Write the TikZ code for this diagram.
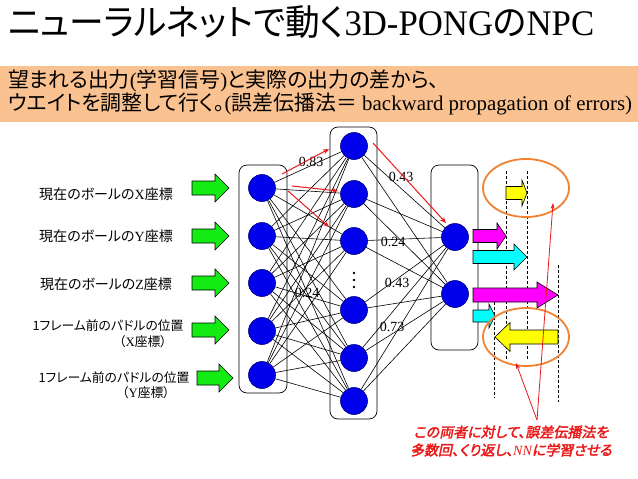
\documentclass[tikz,border=0pt]{standalone}
\usepackage{fontspec}
\setmainfont{Liberation Serif}
\newfontfamily\jp[RawFeature=+palt]{Noto Sans CJK JP}
\newfontfamily\jpred[RawFeature=+palt,FakeSlant=0.2,FakeBold=2.5]{Noto Sans CJK JP}
\usetikzlibrary{arrows.meta}
\definecolor{bandc}{RGB}{250,193,145}
\definecolor{nblue}{RGB}{0,0,235}
\definecolor{nedge}{RGB}{0,0,130}
\definecolor{garrow}{RGB}{20,235,20}
\definecolor{oring}{RGB}{240,130,50}
\definecolor{redc}{RGB}{235,25,25}
\definecolor{amag}{RGB}{255,0,255}
\definecolor{acyan}{RGB}{0,255,255}
\definecolor{ayel}{RGB}{255,255,0}
\newcommand\blkarr[7]{%
  \pgfmathsetmacro\bkh{#2-(#6)}%
  \filldraw[fill=#7, draw=black, line width=0.6pt]
   (#1,{#3-#4}) -- (\bkh,{#3-#4}) -- (\bkh,{#3-#5}) -- (#2,#3)
   -- (\bkh,{#3+#5}) -- (\bkh,{#3+#4}) -- (#1,{#3+#4}) -- cycle;}
\tikzset{
  neuron/.style={circle, fill=nblue, draw=nedge, line width=0.6pt, minimum size=27pt, inner sep=0pt},
  layerbox/.style={draw=black, line width=0.7pt, rounded corners=8pt},
  conn/.style={draw=black, line width=0.6pt},
  redarr/.style={draw=redc, line width=1pt, -{Stealth[length=6pt,width=5pt]}},
  redptr/.style={draw=redc, line width=0.8pt, -{Stealth[length=6pt,width=4pt]}},
  wlabel/.style={font=\fontsize{14}{16}\selectfont, inner sep=0pt},
  inlabel/.style={font=\fontsize{14}{16}\selectfont\jp, inner sep=0pt},
  inlabelsm/.style={font=\fontsize{12.8}{15}\selectfont\jp, inner sep=0pt},
  dline/.style={draw=black, line width=0.5pt, dash pattern=on 3pt off 2pt},
  oell/.style={draw=oring, line width=1.8pt},
}
\begin{document}
\begin{tikzpicture}[x=1pt,y=-1pt]
\useasboundingbox (0,0) rectangle (638,479);
\fill[white] (0,0) rectangle (638,479);
% title
\node[anchor=west, inner sep=0pt] (title) at (8,22)
  {\scalebox{0.965}[1]{\fontsize{36}{40}\selectfont\jp ニューラルネットで動く\rmfamily 3D-PONG\jp の\rmfamily NPC}};
% band
\fill[bandc] (0,66) rectangle (638,122);
\node[anchor=west, inner sep=0pt] (band1) at (8,81)
  {\fontsize{20.9}{24}\selectfont\jp 望まれる出力\rmfamily(\jp 学習信号\rmfamily)\jp と実際の出力の差から、};
\node[anchor=west, inner sep=0pt] (band2) at (8,104)
  {\fontsize{20.9}{24}\selectfont\jp ウエイトを調整して行く。\rmfamily(\jp 誤差伝播法＝\rmfamily\ backward propagation of errors)};
% input labels
\node[inlabel] (l1) at (106,194) {現在のボールの\rmfamily X\jp 座標};
\node[inlabel] (l2) at (106,236) {現在のボールの\rmfamily Y\jp 座標};
\node[inlabel] (l3) at (106,284) {現在のボールの\rmfamily Z\jp 座標};
\node[inlabelsm] (l4a) at (108,326) {1フレーム前のパドルの位置};
\node[inlabelsm] (l4b) at (143,342) {（\rmfamily X\jp 座標）};
\node[inlabelsm] (l5a) at (114,378) {1フレーム前のパドルの位置};
\node[inlabelsm] (l5b) at (146,393) {（\rmfamily Y\jp 座標）};
% green arrows
\blkarr{192}{229}{188}{7}{14}{14}{garrow}
\blkarr{192}{229}{236}{7}{14}{14}{garrow}
\blkarr{192}{229}{283}{7}{14}{14}{garrow}
\blkarr{192}{229}{330}{7}{14}{14}{garrow}
\blkarr{197}{233}{378}{7}{14}{14}{garrow}
% layer boxes
\draw[layerbox] (239,165) rectangle (287,393);
\draw[layerbox] (330,127) rectangle (377,419);
\draw[layerbox] (431,165) rectangle (478,350);
% weight labels
\node[wlabel] (w1) at (311,162) {0.83};
\node[wlabel] (w2) at (401,177) {0.43};
\node[wlabel] (w3) at (393,242) {0.24};
\node[wlabel] (w4) at (397,283) {0.43};
\node[wlabel] (w5) at (392,327) {0.73};
\node[wlabel] (w6) at (307,293) {0.24};
% neurons
\node[neuron] (i1) at (262,188) {};
\node[neuron] (i2) at (262,236) {};
\node[neuron] (i3) at (262,283) {};
\node[neuron] (i4) at (262,331) {};
\node[neuron] (i5) at (262,375) {};
\node[neuron] (h1) at (354,146) {};
\node[neuron] (h2) at (354,194) {};
\node[neuron] (h3) at (354,241) {};
\node[neuron] (h4) at (354,310) {};
\node[neuron] (h5) at (354,358) {};
\node[neuron] (h6) at (354,401) {};
\node[neuron] (o1) at (455,237) {};
\node[neuron] (o2) at (455,294) {};
% dots
\foreach \yy in {273,280,287} \fill[black] (354,\yy) circle (1.3pt);
% connections
\foreach \a in {1,...,5}{\foreach \b in {1,...,6}{\draw[conn] (i\a) -- (h\b);}}
\foreach \b in {1,...,6}{\foreach \c in {1,2}{\draw[conn] (h\b) -- (o\c);}}
% red arrows
\coordinate (r1s) at (282,174); \coordinate (r1e) at (329,149);
\coordinate (r2s) at (292,186); \coordinate (r2e) at (338,191);
\coordinate (r3s) at (288,191); \coordinate (r3e) at (329,227);
\coordinate (r4s) at (373,143); \coordinate (r4e) at (446,223);
\draw[redarr] (r1s) -- (r1e);
\draw[redarr] (r2s) -- (r2e);
\draw[redarr] (r3s) -- (r3e);
\draw[redarr] (r4s) -- (r4e);
% dashed guides
\draw[dline] (506,171) -- (506,360);
\draw[dline] (527,171) -- (527,360);
\draw[dline] (494,302) -- (494,398);
\draw[dline] (558,265) -- (558,402);
% output arrows
\blkarr{473}{506}{236}{6.5}{13}{9}{amag}
\blkarr{473}{527}{257}{6.5}{13}{13}{acyan}
\blkarr{473}{558}{295}{7}{13}{21}{amag}
\blkarr{473}{495}{316}{6}{12}{6}{acyan}
\blkarr{506}{527}{193}{6.5}{13}{5}{ayel}
\blkarr{558}{495}{337}{7}{14.5}{-15}{ayel}
% ellipses
\draw[oell] (526,188) ellipse [x radius=43pt, y radius=29pt];
\draw[oell] (526,337) ellipse [x radius=43pt, y radius=29pt];
% pointer lines
\coordinate (pp) at (537,420);
\coordinate (pt1) at (553,203);
\coordinate (pt2) at (516,363);
\draw[redptr] (pp) -- (pt1);
\draw[redptr] (pp) -- (pt2);
% red note
\node[inner sep=0pt, text=redc] (n1) at (511,432)
  {\fontsize{14}{16}\selectfont\jpred この両者に対して、誤差伝播法を};
\node[inner sep=0pt, text=redc] (n2) at (511,450)
  {\fontsize{14}{16}\selectfont\jpred 多数回、くり返し、\rmfamily\itshape NN\upshape\jpred に学習させる};
\end{tikzpicture}
\end{document}
